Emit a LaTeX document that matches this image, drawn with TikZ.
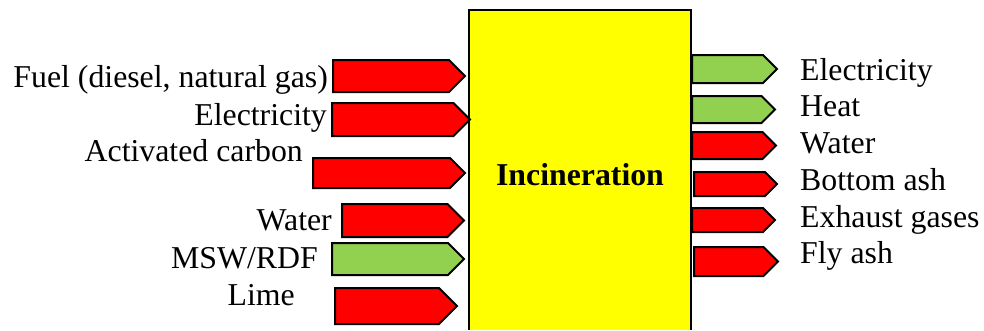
\documentclass[tikz,border=0pt]{standalone}
\usepackage{fontspec}
\setmainfont{Liberation Serif}
\usetikzlibrary{shapes.symbols}
\definecolor{flowred}{HTML}{FF0000}
\definecolor{flowgreen}{HTML}{92D050}
\definecolor{unityellow}{HTML}{FFFF00}
\tikzset{
  flow/.style={signal, signal to=east, signal pointer angle=90, draw=black,
    line width=2bp, inner sep=0pt, outer sep=0pt, anchor=west},
  bad/.style={flow, fill=flowred},
  good/.style={flow, fill=flowgreen},
  lbl/.style={inner sep=0pt, font=\fontsize{31.8bp}{36bp}\selectfont},
  lleft/.style={lbl, anchor=base east},
  lright/.style={lbl, anchor=base west},
}
\begin{document}
\begin{tikzpicture}[x=1bp, y=-1bp]
\useasboundingbox (0,0) rectangle (984,330);
% process unit
\fill[unityellow] (469,10) rectangle (691,330);
\draw[line width=1.4bp] (469,330) -- (469,10) -- (691,10) -- (691,330);
\node[lbl, font=\fontsize{31.8bp}{36bp}\selectfont\bfseries, anchor=base] (unit) at (580,185) {Incineration};
% inputs
\node[bad,  minimum width=132bp, minimum height=32bp] (fuel)   at (333,76)    {};
\node[bad,  minimum width=138bp, minimum height=33bp] (elin)   at (332,119.5) {};
\node[bad,  minimum width=152bp, minimum height=30bp] (carbon) at (313,173)   {};
\node[bad,  minimum width=122bp, minimum height=33bp] (wtin)   at (342,220.5) {};
\node[good, minimum width=132bp, minimum height=32bp] (msw)    at (332,259)   {};
\node[bad,  minimum width=122bp, minimum height=36bp] (lime)   at (335,306)   {};
\node[lleft] (fuelL)   at (328,87)  {Fuel (diesel, natural gas)};
\node[lleft] (elinL)   at (327,125) {Electricity};
\node[lleft] (carbonL) at (303,161) {Activated carbon};
\node[lleft] (wtinL)   at (332,230) {Water};
\node[lleft] (mswL)    at (318,268) {MSW/RDF};
\node[lleft] (limeL)   at (295,305) {Lime};
% outputs
\node[good, minimum width=85bp, minimum height=28bp] (elout)   at (692,69)    {};
\node[good, minimum width=83bp, minimum height=27bp] (heat)    at (692,109.5) {};
\node[bad,  minimum width=84bp, minimum height=27bp] (wtout)   at (692,145.5) {};
\node[bad,  minimum width=83bp, minimum height=24bp] (bottom)  at (694,184)   {};
\node[bad,  minimum width=83bp, minimum height=24bp] (exhaust) at (692,220)   {};
\node[bad,  minimum width=84bp, minimum height=29bp] (fly)     at (694,261.5) {};
\node[lright] (eloutL)   at (800,80)  {Electricity};
\node[lright] (heatL)    at (800,116) {Heat};
\node[lright] (wtoutL)   at (800,153) {Water};
\node[lright] (bottomL)  at (800,190) {Bottom ash};
\node[lright] (exhaustL) at (800,227) {Exhaust gases};
\node[lright] (flyL)     at (800,263) {Fly ash};
\end{tikzpicture}
\end{document}
